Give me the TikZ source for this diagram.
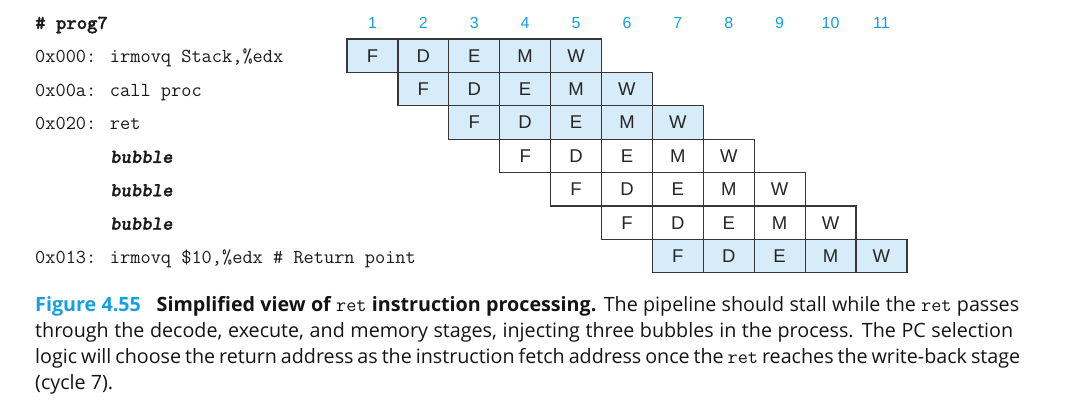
\documentclass[tikz,border=0pt]{standalone}
\usepackage{fontspec}
\newfontfamily\capfont{Open Sans}
\newfontfamily\cellfont{Liberation Sans}
\newfontfamily\ttbf{lmmonolt10-bold.otf}[FakeBold=1.2]
\newfontfamily\ttbfit{lmmonolt10-boldoblique.otf}[FakeBold=1.2]
\definecolor{figcyan}{RGB}{20,160,225}
\definecolor{cellblue}{RGB}{214,236,249}
\definecolor{cellline}{RGB}{55,55,55}
\tikzset{
  stagecell/.style={draw=cellline, line width=1.2pt, minimum width=50.9pt, minimum height=33.4pt,
    inner sep=0pt, outer sep=0pt, font=\cellfont\fontsize{18.5}{20}\selectfont, text=black!85},
  bluecell/.style={stagecell, fill=cellblue},
  whitecell/.style={stagecell, fill=white},
  cyclenum/.style={font=\cellfont\fontsize{16}{17}\selectfont, text=figcyan, inner sep=0pt},
  codeline/.style={anchor=base west, inner sep=0pt, font=\ttfamily\fontsize{19.8}{22}\selectfont, text=black!90},
  bubbleline/.style={codeline, font=\ttbfit\fontsize{19.8}{22}\selectfont},
}
\begin{document}
\begin{tikzpicture}[x=1pt,y=-1pt]
\useasboundingbox (0,0) rectangle (1087,414);
% cycle numbers
\foreach \k in {1,...,11} {
  \node[cyclenum] (n\k) at ({347+(\k-0.5)*50.9},23) {\k};
}
% header
\node[codeline, font=\ttbf\fontsize{19.8}{22}\selectfont] (hdr) at (35,29) {\# prog7};
% code lines
\node[codeline] (l1) at (35,{39+0.5*33.4+7}) {0x000: irmovq Stack,\%edx};
\node[codeline] (l2) at (35,{39+1.5*33.4+7}) {0x00a: call proc};
\node[codeline] (l3) at (35,{39+2.5*33.4+7}) {0x020: ret};
\node[bubbleline] (l4) at (110,{39+3.5*33.4+7}) {bubble};
\node[bubbleline] (l5) at (110,{39+4.5*33.4+7}) {bubble};
\node[bubbleline] (l6) at (110,{39+5.5*33.4+7}) {bubble};
\node[codeline] (l7) at (35,{39+6.5*33.4+7}) {0x013: irmovq \$10,\%edx \# Return point};
% pipeline cells
\foreach \r/\sty in {1/bluecell,2/bluecell,3/bluecell,4/whitecell,5/whitecell,6/whitecell,7/bluecell} {
  \foreach \s [count=\j from 0] in {F,D,E,M,W} {
    \pgfmathtruncatemacro\col{\r+\j}
    \node[\sty] (c\r-\col) at ({347+(\col-0.5)*50.9},{39+(\r-0.5)*33.4}) {\s};
  }
}
% caption
\node[anchor=base west, inner sep=0pt, align=left, font=\capfont\fontsize{19.7}{26}\selectfont, text=black!92] (cap) at (35,{311.7+3*26})
{\makebox[984pt][s]{{\color{figcyan}\bfseries Figure 4.55}\hspace{0.8em}\textbf{Simplified view of {\ttfamily\mdseries ret} instruction processing.} The pipeline should stall while the {\ttfamily ret} passes}\\
\makebox[978pt][s]{through the decode, execute, and memory stages, injecting three bubbles in the process. The PC selection}\\
\makebox[985pt][s]{logic will choose the return address as the instruction fetch address once the {\ttfamily ret} reaches the write-back stage}\\
(cycle 7).};
\end{tikzpicture}
\end{document}
